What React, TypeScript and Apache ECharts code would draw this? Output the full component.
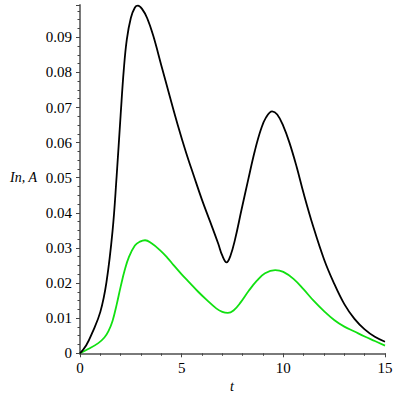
import React, { useEffect, useRef } from "react";
import * as echarts from "echarts";

const blackT = [0, 0.3, 0.6, 1.0, 1.3, 1.6, 1.8, 2.0, 2.15, 2.3, 2.5, 2.7, 2.85, 3.05, 3.3, 3.6, 4.0, 4.4, 4.8, 5.2, 5.6, 6.0, 6.4, 6.8, 7.0, 7.21, 7.4, 7.62, 7.94, 8.27, 8.6, 8.9, 9.15, 9.45, 9.7, 10.0, 10.3, 10.65, 11.0, 11.47, 12.0, 12.45, 13.0, 13.5, 14.0, 14.5, 15];
const blackV = [0, 0.0022, 0.0058, 0.0118, 0.0202, 0.0348, 0.0503, 0.068, 0.0805, 0.0893, 0.0955, 0.0985, 0.099, 0.0981, 0.0955, 0.0905, 0.082, 0.0735, 0.0652, 0.0575, 0.0505, 0.0437, 0.0375, 0.0312, 0.0278, 0.0259, 0.0278, 0.0323, 0.0408, 0.0494, 0.0577, 0.0638, 0.0672, 0.0689, 0.068, 0.0647, 0.06, 0.0532, 0.0455, 0.0361, 0.0268, 0.0205, 0.014, 0.0098, 0.0068, 0.0047, 0.0033];

const greenT = [0, 0.4, 0.9, 1.2, 1.4, 1.6, 1.8, 2.0, 2.2, 2.4, 2.7, 2.95, 3.2, 3.5, 3.93, 4.3, 4.59, 5.0, 5.41, 5.8, 6.23, 6.7, 7.0, 7.27, 7.55, 7.9, 8.3, 8.7, 9.1, 9.6, 10.0, 10.5, 11.0, 11.5, 12.0, 12.5, 13.0, 13.5, 14.0, 14.5, 15];
const greenV = [0, 0.0012, 0.0029, 0.0045, 0.0063, 0.0092, 0.0138, 0.019, 0.0237, 0.0273, 0.0307, 0.0318, 0.0322, 0.0314, 0.0294, 0.0272, 0.0252, 0.0225, 0.02, 0.0176, 0.0152, 0.0128, 0.0118, 0.0115, 0.0122, 0.0145, 0.0178, 0.0207, 0.0228, 0.0237, 0.0232, 0.0212, 0.0182, 0.0149, 0.012, 0.0095, 0.0076, 0.0062, 0.0048, 0.0035, 0.0022];

const xName = "t";
const yName = "In, A";

const FONT = "Liberation Serif";

export default function App() {
  const ref = useRef<HTMLDivElement>(null);
  useEffect(() => {
    if (!ref.current) return;
    const chart = echarts.init(ref.current, undefined, { renderer: "svg" });
    const axisCommon = {
      axisLine: { show: true, onZero: false, lineStyle: { color: "#7a7a7a", width: 2 } },
      axisTick: { show: true, length: 4, lineStyle: { color: "#444", width: 1 } },
      minorTick: { show: true, length: 2.5, lineStyle: { color: "#444", width: 1 } },
      splitLine: { show: false },
      minorSplitLine: { show: false },
    };
    const labelStyle = { fontFamily: FONT, fontSize: 15, color: "#000", margin: 7 };
    chart.setOption({
      animation: false,
      backgroundColor: "#fff",
      textStyle: { fontFamily: FONT },
      grid: { left: 80, right: 15, top: 5, bottom: 46.7, containLabel: false },
      xAxis: {
        type: "value",
        min: 0,
        max: 15,
        interval: 5,
        ...axisCommon,
        minorTick: { ...axisCommon.minorTick, splitNumber: 5 },
        axisLabel: { ...labelStyle },
      },
      yAxis: {
        type: "value",
        min: 0,
        max: 0.0992,
        interval: 0.01,
        ...axisCommon,
        minorTick: { ...axisCommon.minorTick, splitNumber: 4 },
        axisLabel: {
          ...labelStyle,
          margin: 8,
          showMaxLabel: false,
          formatter: (v: number) => (v === 0 ? "0" : Number(v.toFixed(2)).toString()),
        },
      },
      graphic: [
        {
          type: "text",
          left: 10,
          top: 170,
          style: { text: yName, fontFamily: FONT, fontStyle: "italic", fontSize: 14, fill: "#000" },
        },
        {
          type: "text",
          left: 230,
          top: 379,
          style: { text: xName, fontFamily: FONT, fontStyle: "italic", fontSize: 14, fill: "#000" },
        },
      ],
      series: [
        {
          type: "line",
          data: blackT.map((t, i) => [t, blackV[i]]),
          smooth: 0.4,
          showSymbol: false,
          lineStyle: { color: "#000", width: 1.8 },
          z: 3,
        },
        {
          type: "line",
          data: greenT.map((t, i) => [t, greenV[i]]),
          smooth: 0.4,
          showSymbol: false,
          lineStyle: { color: "#11e011", width: 1.8 },
          z: 2,
        },
      ],
    });
    return () => chart.dispose();
  }, []);
  return (
    <div
      ref={ref}
      style={{ position: "absolute", left: 0, top: 0, width: 400, height: 400 }}
    />
  );
}
